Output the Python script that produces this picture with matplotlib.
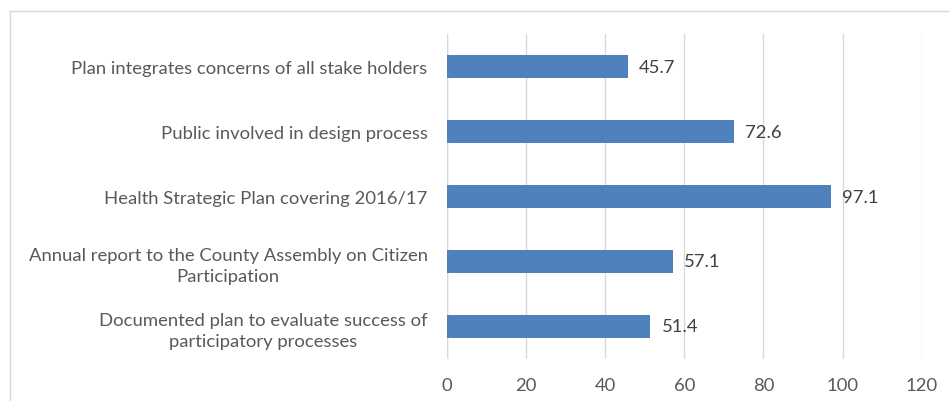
import matplotlib.pyplot as plt
from matplotlib.lines import Line2D

categories = [
    "Plan integrates concerns of all stake holders",
    "Public involved in design process",
    "Health Strategic Plan covering 2016/17",
    "Annual report to the County Assembly on Citizen\nParticipation",
    "Documented plan to evaluate success of\nparticipatory processes",
]
values = [45.7, 72.6, 97.1, 57.1, 51.4]
xticks = [0, 20, 40, 60, 80, 100, 120]

bar_color = "#4F81BD"
text_color = "#595959"
grid_color = "#D9D9D9"

plt.rcParams["font.family"] = ["Lato", "DejaVu Sans"]

fig = plt.figure(figsize=(9.5, 4.02), dpi=100)
ax = fig.add_axes([0.4705, 0.1045, 0.4997, 0.8084])

pos = list(range(len(categories)))
ax.barh(pos, values, height=0.36, color=bar_color, zorder=3)
ax.set_ylim(len(categories) - 0.5, -0.5)
ax.set_xlim(0, 120)
ax.set_xticks(xticks)
ax.set_yticks(pos)
ax.set_yticklabels(categories, multialignment="center", linespacing=1.4)

for y, v in zip(pos, values):
    ax.annotate(f"{v}", (v, y), xytext=(8, 0), textcoords="offset points",
                va="center", ha="left", fontsize=13.3, color="#404040")

ax.grid(axis="x", color=grid_color, linewidth=1, zorder=0)
ax.axvline(0, color=grid_color, linewidth=1, zorder=1)
for s in ax.spines.values():
    s.set_visible(False)
ax.tick_params(axis="both", length=0, labelsize=13.3, labelcolor=text_color)
ax.tick_params(axis="y", pad=14)
ax.tick_params(axis="x", pad=13)

# light chart-area frame
fig.add_artist(Line2D([10 / 950, 10 / 950], [0, 1 - 12 / 402], color=grid_color, lw=1))
fig.add_artist(Line2D([10 / 950, 1], [1 - 12 / 402, 1 - 12 / 402], color=grid_color, lw=1))

fig.savefig("out.png", dpi=100)
